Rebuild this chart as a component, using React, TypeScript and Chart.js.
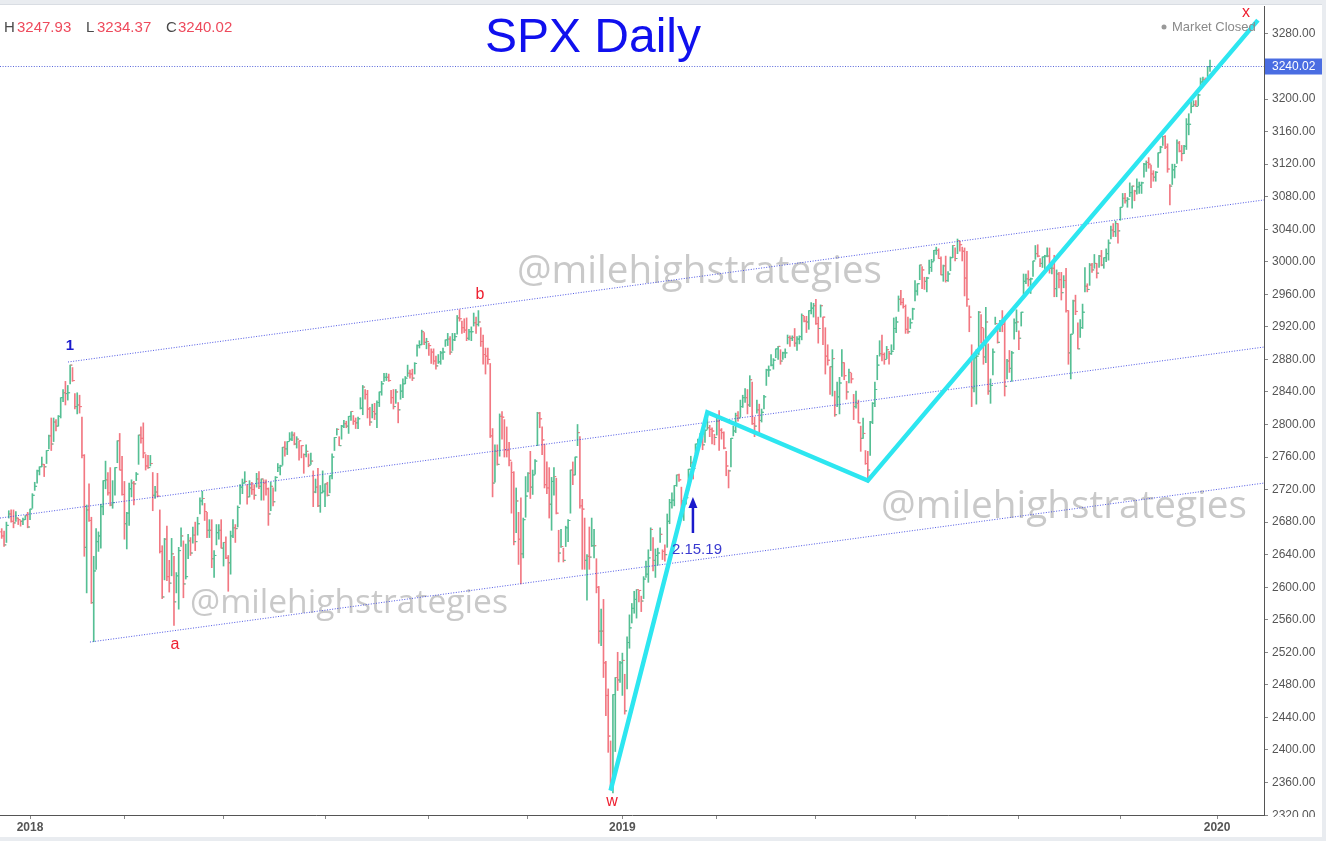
import React, { useEffect, useRef } from "react";
import { Chart, registerables } from "chart.js";
Chart.register(...registerables);

const FONT = '"Liberation Sans", Arial, Helvetica, sans-serif';

// SPX daily bars, 2017-12-13 .. 2019-12-27 (one entry per trading day)
const closes = [
  // Dec 2017
  2663, 2652, 2676, 2690, 2681, 2679, 2685, 2683, 2681, 2683, 2688, 2674,
  // Jan 2018
  2696, 2713, 2724, 2743, 2748, 2751, 2748, 2768, 2786, 2776, 2803, 2798, 2810, 2833, 2839, 2838, 2839, 2873, 2854, 2822, 2824,
  // Feb 2018
  2822, 2762, 2649, 2695, 2682, 2581, 2620, 2656, 2663, 2699, 2731, 2732, 2716, 2701, 2704, 2747, 2780, 2744, 2714,
  // Mar 2018
  2678, 2691, 2721, 2728, 2727, 2739, 2787, 2783, 2765, 2749, 2747, 2752, 2713, 2717, 2712, 2644, 2588, 2659, 2613, 2605, 2641,
  // Apr 2018
  2582, 2614, 2645, 2663, 2604, 2613, 2657, 2642, 2664, 2656, 2678, 2706, 2709, 2693, 2670, 2670, 2635, 2639, 2667, 2670, 2648,
  // May 2018
  2655, 2636, 2630, 2663, 2673, 2672, 2698, 2723, 2728, 2730, 2711, 2722, 2720, 2713, 2733, 2724, 2733, 2728, 2721, 2690, 2724, 2705,
  // Jun 2018
  2735, 2747, 2749, 2772, 2770, 2779, 2782, 2787, 2776, 2782, 2780, 2774, 2763, 2767, 2750, 2755, 2717, 2723, 2700, 2716, 2718,
  // Jul 2018
  2727, 2713, 2737, 2760, 2784, 2794, 2774, 2798, 2801, 2798, 2810, 2816, 2804, 2802, 2807, 2820, 2846, 2837, 2819, 2803, 2816,
  // Aug 2018
  2813, 2827, 2840, 2850, 2858, 2858, 2854, 2833, 2822, 2840, 2818, 2841, 2850, 2857, 2863, 2862, 2857, 2875, 2897, 2898, 2914, 2901, 2902,
  // Sep 2018
  2897, 2889, 2878, 2872, 2877, 2888, 2889, 2904, 2905, 2889, 2904, 2908, 2931, 2930, 2919, 2916, 2906, 2914, 2914,
  // Oct 2018
  2925, 2923, 2926, 2902, 2886, 2884, 2880, 2786, 2728, 2767, 2751, 2810, 2809, 2769, 2768, 2756, 2741, 2656, 2706, 2659, 2641, 2683, 2712,
  // Nov 2018
  2740, 2723, 2738, 2755, 2814, 2807, 2781, 2726, 2722, 2702, 2730, 2736, 2691, 2642, 2650, 2633, 2673, 2682, 2744, 2738, 2760,
  // Dec 2018
  2790, 2700, 2696, 2633, 2638, 2637, 2651, 2651, 2600, 2546, 2546, 2507, 2467, 2417, 2351, 2468, 2489, 2486, 2507,
  // Jan 2019
  2510, 2448, 2532, 2550, 2574, 2585, 2597, 2596, 2583, 2610, 2616, 2636, 2671, 2633, 2639, 2642, 2665, 2644, 2640, 2681, 2704,
  // Feb 2019
  2707, 2725, 2738, 2732, 2706, 2708, 2710, 2745, 2753, 2746, 2776, 2780, 2785, 2775, 2793, 2796, 2794, 2792, 2784,
  // Mar 2019
  2804, 2793, 2790, 2771, 2749, 2743, 2783, 2792, 2811, 2808, 2822, 2833, 2833, 2824, 2855, 2801, 2798, 2818, 2805, 2815, 2834,
  // Apr 2019
  2867, 2867, 2873, 2879, 2893, 2896, 2878, 2888, 2888, 2907, 2906, 2907, 2900, 2905, 2908, 2934, 2927, 2926, 2940, 2943, 2946,
  // May 2019
  2924, 2918, 2946, 2932, 2884, 2879, 2871, 2881, 2812, 2834, 2851, 2876, 2860, 2840, 2864, 2856, 2822, 2826, 2802, 2783, 2789, 2752,
  // Jun 2019
  2744, 2803, 2826, 2843, 2873, 2887, 2886, 2880, 2892, 2887, 2890, 2918, 2926, 2954, 2950, 2945, 2917, 2914, 2925, 2942,
  // Jul 2019
  2964, 2973, 2996, 2990, 2976, 2980, 2993, 3000, 3014, 3014, 3004, 2984, 2995, 2977, 2985, 3005, 3020, 3004, 3026, 3021, 3013, 2980,
  // Aug 2019
  2954, 2932, 2845, 2882, 2884, 2938, 2919, 2883, 2926, 2841, 2848, 2889, 2924, 2901, 2924, 2923, 2847, 2878, 2869, 2888, 2925, 2926,
  // Sep 2019
  2906, 2938, 2976, 2979, 2978, 2979, 3001, 3010, 3007, 2998, 3006, 3007, 3007, 2992, 2992, 2967, 2985, 2978, 2962, 2977,
  // Oct 2019
  2940, 2888, 2911, 2952, 2939, 2893, 2919, 2938, 2970, 2966, 2996, 2990, 2998, 2986, 3007, 2996, 3005, 3010, 3023, 3039, 3037, 3047, 3038,
  // Nov 2019
  3067, 3078, 3075, 3077, 3085, 3093, 3087, 3092, 3094, 3097, 3120, 3122, 3120, 3108, 3104, 3110, 3134, 3141, 3154, 3141,
  // Dec 2019
  3114, 3093, 3113, 3117, 3146, 3136, 3133, 3142, 3169, 3169, 3191, 3193, 3191, 3205, 3221, 3224, 3223, 3240, 3240,
];

const highs = [
  2672, 2669, 2680, 2694, 2695, 2695, 2693, 2685, 2682, 2685, 2688, 2692,
  2696, 2715, 2729, 2744, 2748, 2760, 2751, 2768, 2787, 2808, 2808, 2806, 2811, 2833, 2843, 2853, 2848, 2873, 2870, 2838, 2839,
  2836, 2809, 2763, 2701, 2727, 2686, 2638, 2672, 2668, 2702, 2731, 2755, 2741, 2747, 2731, 2747, 2780, 2789, 2761,
  2730, 2692, 2728, 2732, 2730, 2741, 2787, 2797, 2802, 2763, 2762, 2762, 2741, 2724, 2740, 2695, 2651, 2660, 2675, 2633, 2660,
  2638, 2618, 2649, 2673, 2657, 2653, 2665, 2661, 2674, 2680, 2686, 2710, 2718, 2703, 2692, 2683, 2683, 2645, 2677, 2677, 2683,
  2655, 2662, 2639, 2669, 2683, 2677, 2700, 2726, 2733, 2742, 2726, 2731, 2729, 2726, 2740, 2742, 2733, 2732, 2732, 2722, 2729, 2722,
  2736, 2752, 2750, 2772, 2779, 2779, 2790, 2791, 2790, 2785, 2780, 2774, 2764, 2775, 2764, 2765, 2743, 2733, 2746, 2725, 2743,
  2727, 2729, 2737, 2764, 2784, 2795, 2785, 2799, 2805, 2804, 2810, 2816, 2811, 2808, 2809, 2833, 2848, 2843, 2842, 2821, 2825,
  2826, 2829, 2840, 2853, 2863, 2863, 2862, 2842, 2843, 2843, 2827, 2849, 2856, 2859, 2873, 2867, 2868, 2876, 2898, 2903, 2916, 2913, 2906,
  2900, 2893, 2893, 2884, 2886, 2890, 2894, 2904, 2912, 2908, 2912, 2912, 2934, 2941, 2927, 2930, 2931, 2917, 2920,
  2937, 2932, 2940, 2919, 2910, 2894, 2894, 2875, 2795, 2775, 2775, 2813, 2816, 2806, 2797, 2778, 2754, 2742, 2722, 2692, 2710, 2685, 2736,
  2741, 2767, 2744, 2757, 2815, 2815, 2797, 2776, 2754, 2747, 2735, 2747, 2734, 2670, 2671, 2648, 2675, 2683, 2744, 2754, 2760,
  2800, 2785, 2708, 2685, 2640, 2674, 2685, 2671, 2635, 2601, 2573, 2585, 2509, 2475, 2411, 2468, 2489, 2520, 2509,
  2519, 2493, 2539, 2566, 2580, 2595, 2597, 2596, 2589, 2613, 2632, 2646, 2673, 2661, 2647, 2648, 2673, 2646, 2652, 2690, 2708,
  2716, 2725, 2738, 2739, 2723, 2709, 2718, 2745, 2761, 2754, 2776, 2782, 2789, 2786, 2793, 2813, 2799, 2796, 2788,
  2808, 2817, 2795, 2791, 2767, 2744, 2783, 2798, 2814, 2816, 2830, 2836, 2844, 2843, 2860, 2852, 2809, 2830, 2825, 2819, 2836,
  2868, 2872, 2886, 2881, 2893, 2896, 2892, 2889, 2893, 2910, 2909, 2909, 2918, 2908, 2909, 2936, 2933, 2933, 2940, 2950, 2949,
  2954, 2932, 2947, 2932, 2919, 2898, 2871, 2892, 2841, 2852, 2858, 2892, 2876, 2853, 2868, 2863, 2837, 2841, 2830, 2798, 2808, 2768,
  2767, 2804, 2827, 2852, 2885, 2903, 2910, 2888, 2896, 2890, 2898, 2931, 2932, 2958, 2965, 2955, 2947, 2932, 2930, 2943,
  2977, 2973, 2996, 2994, 2981, 2981, 3002, 3003, 3014, 3018, 3016, 3006, 2996, 3007, 2988, 3006, 3020, 3017, 3028, 3025, 3018, 3017,
  3013, 2946, 2898, 2884, 2892, 2939, 2935, 2918, 2944, 2899, 2856, 2893, 2932, 2917, 2928, 2940, 2927, 2880, 2891, 2890, 2930, 2941,
  2915, 2938, 2985, 2985, 2989, 2980, 3001, 3020, 3021, 3004, 3006, 3008, 3017, 3017, 2999, 3008, 2990, 2987, 2987, 2983,
  2992, 2940, 2911, 2953, 2959, 2925, 2929, 2948, 2993, 2973, 2998, 2998, 3009, 2998, 3008, 3014, 3005, 3016, 3027, 3044, 3047, 3050, 3047,
  3067, 3084, 3084, 3079, 3097, 3093, 3088, 3102, 3098, 3098, 3121, 3124, 3128, 3119, 3112, 3111, 3134, 3142, 3154, 3155,
  3145, 3095, 3120, 3120, 3150, 3148, 3143, 3143, 3176, 3182, 3197, 3198, 3198, 3206, 3226, 3227, 3226, 3240, 3248,
];

const lows = [
  2660, 2650, 2655, 2685, 2680, 2673, 2681, 2677, 2675, 2677, 2683, 2673,
  2683, 2697, 2719, 2728, 2738, 2748, 2736, 2752, 2770, 2768, 2779, 2792, 2798, 2808, 2828, 2824, 2830, 2850, 2853, 2819, 2813,
  2814, 2759, 2638, 2593, 2681, 2580, 2533, 2622, 2644, 2648, 2689, 2721, 2713, 2700, 2697, 2713, 2753, 2744, 2713,
  2659, 2647, 2676, 2711, 2701, 2731, 2751, 2777, 2759, 2744, 2746, 2749, 2694, 2709, 2711, 2642, 2586, 2609, 2608, 2594, 2614,
  2553, 2593, 2573, 2650, 2587, 2610, 2635, 2639, 2654, 2645, 2664, 2690, 2701, 2682, 2661, 2661, 2624, 2612, 2652, 2659, 2648,
  2626, 2635, 2595, 2616, 2661, 2655, 2674, 2702, 2715, 2728, 2702, 2711, 2714, 2708, 2723, 2721, 2707, 2707, 2713, 2676, 2694, 2700,
  2718, 2742, 2738, 2750, 2761, 2763, 2780, 2780, 2775, 2771, 2756, 2759, 2740, 2760, 2748, 2751, 2699, 2716, 2699, 2692, 2716,
  2699, 2712, 2716, 2733, 2768, 2787, 2774, 2782, 2796, 2796, 2789, 2805, 2800, 2795, 2795, 2819, 2812, 2831, 2808, 2799, 2808,
  2806, 2796, 2822, 2836, 2853, 2854, 2853, 2826, 2819, 2826, 2802, 2831, 2833, 2850, 2859, 2857, 2854, 2862, 2884, 2894, 2898, 2898, 2893,
  2885, 2875, 2874, 2868, 2875, 2874, 2880, 2896, 2897, 2886, 2891, 2903, 2911, 2927, 2912, 2913, 2903, 2904, 2903,
  2921, 2912, 2921, 2896, 2874, 2862, 2874, 2784, 2711, 2729, 2750, 2761, 2782, 2760, 2760, 2749, 2691, 2652, 2667, 2628, 2604, 2636, 2686,
  2717, 2709, 2714, 2739, 2774, 2796, 2763, 2722, 2715, 2685, 2670, 2713, 2690, 2631, 2649, 2631, 2650, 2656, 2691, 2726, 2738,
  2774, 2697, 2622, 2622, 2584, 2622, 2650, 2636, 2593, 2531, 2528, 2489, 2442, 2397, 2351, 2347, 2398, 2473, 2483,
  2467, 2444, 2475, 2525, 2556, 2568, 2562, 2582, 2570, 2586, 2612, 2606, 2645, 2620, 2612, 2627, 2655, 2634, 2632, 2649, 2678,
  2697, 2700, 2724, 2730, 2687, 2682, 2702, 2719, 2748, 2733, 2764, 2766, 2774, 2769, 2778, 2794, 2785, 2776, 2775,
  2787, 2768, 2782, 2770, 2737, 2722, 2748, 2786, 2790, 2804, 2809, 2821, 2827, 2813, 2822, 2800, 2785, 2814, 2787, 2803, 2819,
  2848, 2859, 2872, 2868, 2882, 2880, 2874, 2880, 2882, 2899, 2896, 2903, 2896, 2891, 2899, 2904, 2926, 2913, 2917, 2936, 2932,
  2923, 2900, 2932, 2898, 2862, 2873, 2837, 2835, 2810, 2822, 2813, 2859, 2855, 2831, 2851, 2851, 2806, 2820, 2802, 2767, 2783, 2751,
  2729, 2762, 2801, 2822, 2855, 2884, 2878, 2874, 2881, 2874, 2886, 2892, 2913, 2939, 2947, 2943, 2912, 2912, 2918, 2929,
  2952, 2959, 2978, 2967, 2966, 2963, 2985, 2988, 3001, 3009, 3004, 2984, 2976, 2975, 2976, 2989, 3005, 3001, 3010, 3013, 3001, 2958,
  2945, 2914, 2822, 2840, 2825, 2886, 2900, 2874, 2876, 2837, 2826, 2861, 2923, 2900, 2914, 2914, 2835, 2856, 2864, 2853, 2905, 2914,
  2892, 2921, 2960, 2973, 2970, 2961, 2982, 3003, 3006, 2994, 2993, 2989, 3006, 2986, 2985, 2957, 2957, 2968, 2953, 2968,
  2938, 2874, 2856, 2912, 2935, 2893, 2907, 2918, 2963, 2963, 2971, 2987, 2992, 2980, 2993, 2995, 2992, 3000, 3002, 3028, 3031, 3031, 3023,
  3051, 3068, 3072, 3067, 3080, 3066, 3075, 3083, 3084, 3084, 3104, 3111, 3115, 3091, 3099, 3099, 3116, 3134, 3143, 3139,
  3110, 3070, 3095, 3103, 3121, 3135, 3124, 3133, 3138, 3156, 3183, 3191, 3191, 3192, 3216, 3217, 3220, 3227, 3234,
];

const firstOpen = 2668;

// x axis: trading-day index of every second month start, with year labels
const xTickIndex = [12, 52, 94, 137, 181, 223, 263, 303, 345, 387, 431, 474, 515];
const xTickText = ["2018", "", "", "", "", "", "2019", "", "", "", "", "", "2020"];
const xRange = [-0.72, 534.88];
const yRange = [2320, 3314.4];

// drawings (trading-day index, price)
const cyanWave = [
  { x: 258, y: 2350 },
  { x: 299, y: 2815 },
  { x: 367, y: 2731 },
  { x: 532.3, y: 3297 },
];
const channelTop = [{ x: 28.1, y: 2876.8 }, { x: 534.88, y: 3076 }];
const channelMid = [{ x: -0.72, y: 2685 }, { x: 534.88, y: 2895.2 }];
const channelLow = [{ x: 37.4, y: 2532.6 }, { x: 534.88, y: 2728 }];
const lastClose = 3240.02;
const ohlcHeader = [["H", "3247.93"], ["L", "3234.37"], ["C", "3240.02"]];
const waveLabels = [
  { t: "1", i: 28.9, v: 2896.5, blue: true },
  { t: "a", i: 73.4, v: 2529, blue: false },
  { t: "b", i: 202.7, v: 2960, blue: false },
  { t: "w", i: 258.6, v: 2337, blue: false },
  { t: "x", i: 527.3, v: 3305.8, blue: false },
];
const arrowMark = { i: 292.9, from: 2666.6, to: 2711 };
const dateNote = { t: "2.15.19", i: 294.6, v: 2645.7 };
const watermarkText = "@milehighstrategies";

const UP = "#55bf94";
const DOWN = "#f27882";
const CYAN = "#2de6f0";
const DOT = "rgba(60, 70, 225, 0.9)";

export default function App() {
  const ref = useRef<HTMLCanvasElement>(null);

  useEffect(() => {
    document.body.style.margin = "0";
    const canvas = ref.current;
    if (!canvas) return;
    const n = Math.min(closes.length, highs.length, lows.length);
    const idx = Array.from({ length: n }, (_, i) => i);
    const opens = idx.map((i) => (i === 0 ? firstOpen : closes[i - 1]));
    const col = idx.map((i) => (closes[i] >= opens[i] ? UP : DOWN));

    const overlay = {
      id: "overlay",
      beforeDraw(chart: any) {
        const ctx = chart.ctx;
        ctx.save();
        ctx.fillStyle = "#e9ecf0";
        ctx.fillRect(0, 0, 1326, 841);
        ctx.fillStyle = "#d9dde3";
        ctx.fillRect(0, 4, 1322, 1);
        ctx.fillStyle = "#ffffff";
        ctx.fillRect(0, 5, 1322, 832);
        ctx.restore();
      },
      beforeDatasetsDraw(chart: any) {
        const ctx = chart.ctx;
        ctx.save();
        ctx.fillStyle = "rgba(165,165,165,0.6)";
        ctx.textBaseline = "middle";
        ctx.textAlign = "left";
        const marks = [
          { x0: 517, x1: 882, y: 272 },
          { x0: 881, x1: 1247, y: 507 },
          { x0: 190, x1: 508, y: 603 },
        ];
        for (const m of marks) {
          ctx.font = `100px "Open Sans", ${FONT}`;
          const w = ctx.measureText(watermarkText).width;
          const size = (100 * (m.x1 - m.x0)) / w;
          ctx.font = `${size}px "Open Sans", ${FONT}`;
          ctx.fillText(watermarkText, m.x0, m.y);
        }
        ctx.restore();
      },
      afterDraw(chart: any) {
        const ctx = chart.ctx;
        const xs = chart.scales.x;
        const ys = chart.scales.y;
        ctx.save();
        // header OHLC
        ctx.textBaseline = "middle";
        ctx.textAlign = "left";
        ctx.font = `15px ${FONT}`;
        const hx = [[4, 17], [86, 97], [166, 178]];
        ohlcHeader.forEach((p, k) => {
          ctx.fillStyle = "#4a4a4a";
          ctx.fillText(p[0], hx[k][0], 28);
          ctx.fillStyle = "#ee4a5c";
          ctx.fillText(p[1], hx[k][1], 28);
        });
        // title
        ctx.font = `48px ${FONT}`;
        ctx.fillStyle = "#1010ee";
        ctx.textAlign = "center";
        ctx.textBaseline = "alphabetic";
        ctx.fillText("SPX Daily", 593, 52);
        // market closed
        ctx.fillStyle = "#999";
        ctx.beginPath();
        ctx.arc(1164, 27, 2.5, 0, Math.PI * 2);
        ctx.fill();
        ctx.font = `13px ${FONT}`;
        ctx.fillStyle = "#8a8a8a";
        ctx.textAlign = "left";
        ctx.textBaseline = "middle";
        ctx.fillText("Market Closed", 1172, 27);
        // wave labels
        ctx.textAlign = "center";
        for (const l of waveLabels) {
          ctx.font = l.blue ? `bold 15px ${FONT}` : `16px ${FONT}`;
          ctx.fillStyle = l.blue ? "#1a1acc" : "#ee2030";
          ctx.fillText(l.t, xs.getPixelForValue(l.i), ys.getPixelForValue(l.v));
        }
        // arrow
        const ax = xs.getPixelForValue(arrowMark.i);
        const ay0 = ys.getPixelForValue(arrowMark.from);
        const ay1 = ys.getPixelForValue(arrowMark.to);
        ctx.strokeStyle = "#1a1acc";
        ctx.fillStyle = "#1a1acc";
        ctx.lineWidth = 2.5;
        ctx.beginPath();
        ctx.moveTo(ax, ay0);
        ctx.lineTo(ax, ay1 + 8);
        ctx.stroke();
        ctx.beginPath();
        ctx.moveTo(ax, ay1);
        ctx.lineTo(ax - 4.5, ay1 + 11);
        ctx.lineTo(ax + 4.5, ay1 + 11);
        ctx.closePath();
        ctx.fill();
        ctx.font = `15px ${FONT}`;
        ctx.fillStyle = "#3a3ad0";
        ctx.fillText(dateNote.t, xs.getPixelForValue(dateNote.i), ys.getPixelForValue(dateNote.v));
        // last price tag
        const py = ys.getPixelForValue(lastClose);
        ctx.fillStyle = "#4a6de2";
        ctx.fillRect(1265, py - 8, 57, 16);
        ctx.fillStyle = "#ffffff";
        ctx.font = `12px ${FONT}`;
        ctx.textAlign = "left";
        ctx.fillText(lastClose.toFixed(2), 1272, py + 0.5);
        // clipped bottom tick label
        ctx.save();
        ctx.beginPath();
        ctx.rect(1265, 0, 61, 817);
        ctx.clip();
        ctx.fillStyle = "#555";
        ctx.fillText(yRange[0].toFixed(2), 1272, ys.getPixelForValue(yRange[0]) + 1);
        ctx.restore();
        ctx.restore();
      },
    };

    const lineDs = (data: any[], color: string, width: number, dash: number[], order: number) => ({
      type: "line",
      data,
      borderColor: color,
      borderWidth: width,
      borderDash: dash,
      pointRadius: 0,
      fill: false,
      tension: 0,
      order,
    });

    const chart = new Chart(canvas, {
      type: "bar",
      data: {
        datasets: [
          lineDs(cyanWave, CYAN, 4.5, [], 0),
          lineDs(channelTop, DOT, 1, [1, 1.6], 1),
          lineDs(channelMid, DOT, 1, [1, 1.6], 1),
          lineDs(channelLow, DOT, 1, [1, 1.6], 1),
          lineDs([{ x: xRange[0], y: lastClose }, { x: xRange[1], y: lastClose }], "rgba(70,85,215,0.9)", 1, [1, 1.6], 1),
          {
            type: "scatter",
            data: idx.map((i) => ({ x: i - 0.42, y: opens[i] })),
            pointStyle: "line",
            pointRadius: 1,
            pointBorderWidth: 1,
            pointBorderColor: col,
            pointBackgroundColor: col,
            showLine: false,
            order: 2,
          },
          {
            type: "scatter",
            data: idx.map((i) => ({ x: i + 0.42, y: closes[i] })),
            pointStyle: "line",
            pointRadius: 1,
            pointBorderWidth: 1,
            pointBorderColor: col,
            pointBackgroundColor: col,
            showLine: false,
            order: 2,
          },
          {
            type: "bar",
            data: idx.map((i) => ({ x: i, y: [lows[i], highs[i]] })),
            backgroundColor: col,
            borderWidth: 0,
            barThickness: 1,
            grouped: false,
            order: 3,
          },
        ] as any,
      },
      options: {
        animation: false,
        responsive: false,
        devicePixelRatio: 1,
        events: [],
        layout: { autoPadding: false, padding: { top: 6, left: 0, right: 4, bottom: 4 } },
        plugins: { legend: { display: false }, tooltip: { enabled: false } },
        scales: {
          x: {
            type: "linear",
            min: xRange[0],
            max: xRange[1],
            offset: false,
            grid: { display: true, drawOnChartArea: false, drawTicks: true, tickLength: 4, color: "#888", offset: false },
            border: { display: true, color: "#555", width: 1 },
            ticks: {
              autoSkip: false,
              maxRotation: 0,
              padding: 1,
              color: "#555",
              font: { family: FONT, size: 12, weight: "bold" },
              callback: (v: any) => {
                const k = xTickIndex.indexOf(Number(v));
                return k >= 0 ? xTickText[k] : "";
              },
            },
            afterBuildTicks: (s: any) => {
              s.ticks = xTickIndex.map((v) => ({ value: v }));
            },
            afterFit: (s: any) => {
              s.height = 22;
              s.paddingLeft = 0;
              s.paddingRight = 0;
            },
          },
          y: {
            type: "linear",
            position: "right",
            min: yRange[0],
            max: yRange[1],
            grid: { display: true, drawOnChartArea: false, drawTicks: true, tickLength: 4, color: "#888" },
            border: { display: true, color: "#555", width: 1 },
            ticks: {
              stepSize: 40,
              includeBounds: false,
              padding: 4,
              color: "#555",
              font: { family: FONT, size: 12 },
              callback: (v: any) => (Number(v) === yRange[0] ? "" : Number(v).toFixed(2)),
            },
            afterFit: (s: any) => {
              s.width = 58;
              s.paddingTop = 0;
              s.paddingBottom = 0;
            },
          },
        },
      } as any,
      plugins: [overlay],
    });
    return () => chart.destroy();
  }, []);

  return (
    <div style={{ position: "absolute", left: 0, top: 0, width: 1326, height: 841 }}>
      <canvas ref={ref} width={1326} height={841} style={{ display: "block" }} />
    </div>
  );
}
